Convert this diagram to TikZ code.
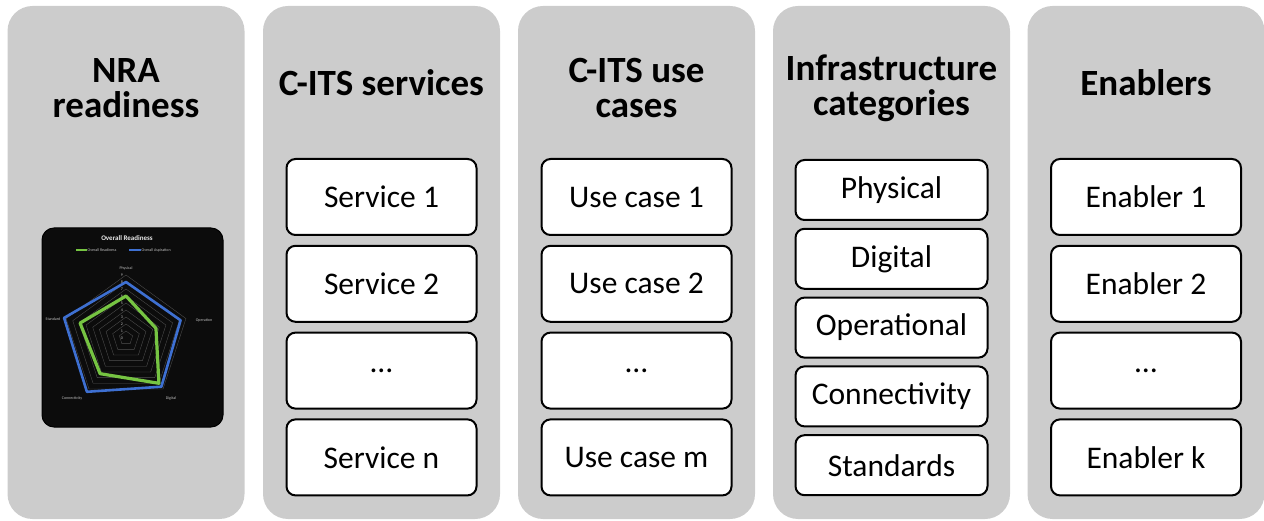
\documentclass[tikz,border=0pt]{standalone}
\usepackage{fontspec}
\setmainfont{Carlito}
\usetikzlibrary{positioning,calc}
\definecolor{panelgrey}{RGB}{204,204,204}
\definecolor{chartbg}{RGB}{12,12,12}
\definecolor{readygreen}{RGB}{118,196,66}
\definecolor{aspireblue}{RGB}{62,112,210}
\definecolor{chartgrid}{RGB}{80,80,80}
\definecolor{charttext}{RGB}{190,190,190}

\begin{document}
\begin{tikzpicture}[x=1pt,y=-1pt,
  panel/.style={fill=panelgrey, rounded corners=25pt, minimum width=237pt, minimum height=513pt, inner sep=0pt},
  head/.style={font=\fontsize{37}{35}\selectfont\bfseries, align=center, inner sep=0pt},
  item/.style={draw=black, line width=2pt, fill=white, rounded corners=9pt, minimum width=190pt, minimum height=76pt, inner sep=0pt, font=\fontsize{31.5}{37}\selectfont},
  infra/.style={item, minimum width=192pt, minimum height=60pt},
  axislabel/.style={text=charttext, font=\fontsize{4}{4.5}\selectfont, inner sep=0.5pt}]
\useasboundingbox (0,0) rectangle (1264,521);

\foreach \i/\x in {1/126,2/381.5,3/636.5,4/891.5,5/1146}
  \node[panel] (panel\i) at (\x,262.5) {};

\node[head] (nra) at (126,88) {NRA\\readiness};
\node[head] (services) at (381.5,83) {C-ITS services};
\node[head] (usecases) at (636.5,88) {C-ITS use\\cases};
\node[head] (infracat) at (891.5,88) {Infrastructure\\categories};
\node[head] (enablers) at (1146,83) {Enablers};

\foreach \n/\t in {1/Service 1,2/Service 2,3/…,4/Service n}
  \node[item] (service\n) at (381.5,{197+86.8*(\n-1)}) {\t};
\foreach \n/\t in {1/Use case 1,2/Use case 2,3/…,4/Use case m}
  \node[item] (usecase\n) at (636.5,{197+86.8*(\n-1)}) {\t};
\foreach \n/\t in {1/Physical,2/Digital,3/Operational,4/Connectivity,5/Standards}
  \node[infra] (infra\n) at (891.5,{190+68.8*(\n-1)}) {\t};
\foreach \n/\t in {1/Enabler 1,2/Enabler 2,3/…,4/Enabler k}
  \node[item] (enabler\n) at (1146,{197+86.8*(\n-1)}) {\t};

% radar chart picture
\node[fill=chartbg, draw=black, line width=1pt, rounded corners=12pt, minimum width=181pt, minimum height=199pt] (chart) at (132.5,327.5) {};
\node[text=white!92!black, font=\fontsize{7}{8}\selectfont\bfseries] (charttitle) at (127,238) {Overall Readiness};
\draw[readygreen, line width=1.3pt] (76,250) -- (87,250);
\node[axislabel, anchor=west] (legready) at (87,250) {Overall Readiness};
\draw[aspireblue, line width=1.3pt] (129,250) -- (141,250);
\node[axislabel, anchor=west] (legaspire) at (141,250) {Overall Aspiration};
\begin{scope}[shift={(126,338)}, x=7pt, y=7pt]
  \foreach \r in {1,...,9}
    \draw[chartgrid, line width=0.35pt] (90:\r) -- (18:\r) -- (-54:\r) -- (-126:\r) -- (162:\r) -- cycle;
  \foreach \r in {0,...,9}
    \node[axislabel] at ($(90:\r)+(-0.6,0)$) {\r};
  \draw[readygreen, line width=3.2pt, line join=round] (90:6) -- (18:4.5) -- (-54:8) -- (-126:6.3) -- (162:6.9) -- cycle;
  \draw[aspireblue, line width=2.6pt, line join=round] (90:8) -- (18:8.2) -- (-54:8.6) -- (-126:9.5) -- (162:9.3) -- cycle;
\end{scope}
\node[axislabel] (physical) at (126,268) {Physical};
\node[axislabel] (operation) at (204,320) {Operation};
\node[axislabel] (digital) at (171,398) {Digital};
\node[axislabel] (connect) at (72,398) {Connectivity};
\node[axislabel] (standard) at (53,319) {Standard};
\end{tikzpicture}
\end{document}
